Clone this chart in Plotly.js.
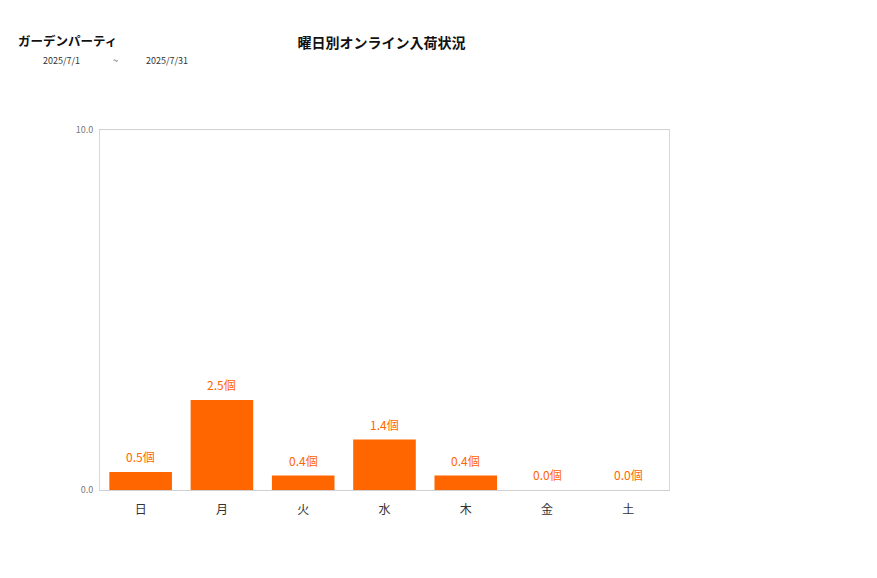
<!DOCTYPE html>
<html><head><meta charset="utf-8">
<script src="https://cdn.plot.ly/plotly-3.0.1.min.js"></script>
<style>html,body{margin:0;padding:0;background:#fff}#c{width:877px;height:578px}</style>
</head><body><div id="c"></div>
<script>
const categories = ["日","月","火","水","木","金","土"];
const values = [0.5, 2.5, 0.4, 1.4, 0.4, 0.0, 0.0];
const unit = "個";
const chartTitle = "曜日別オンライン入荷状況";
const storeName = "ガーデンパーティ";
const dateFrom = "2025/7/1";
const dateTo = "2025/7/31";
const yTicks = [0, 10];

const F = "'Noto Sans CJK JP', 'Noto Sans', sans-serif";
const labelAnns = categories.map((c, i) => ({
  x: c, y: values[i], xref: "x", yref: "y", text: values[i].toFixed(1) + unit,
  showarrow: false, yanchor: "bottom", yshift: 5,
  font: {family: F, size: 12, color: "#ff6600"}
}));
Plotly.newPlot("c", [{
  type: "bar",
  x: categories,
  y: values,
  marker: {color: "#ff6600"},
  hoverinfo: "none"
}], {
  width: 877, height: 578,
  margin: {l: 100, r: 208, t: 130, b: 88},
  paper_bgcolor: "#fff", plot_bgcolor: "#fff",
  bargap: 0.23,
  showlegend: false,
  font: {family: F},
  title: {text: "<b>" + chartTitle + "</b>", x: 0.435, xanchor: "center", y: 0.925, yanchor: "middle",
          font: {family: F, size: 14, color: "#111"}},
  xaxis: {
    tickfont: {family: F, size: 12, color: "#333"},
    showline: true, linecolor: "#d0d0d0", linewidth: 1, mirror: true,
    ticks: "", showgrid: false, ticklabelstandoff: 9
  },
  yaxis: {
    range: [0, 10], tickvals: yTicks, ticktext: yTicks.map(v => v.toFixed(1)),
    tickfont: {family: F, size: 9, color: "#777"},
    showline: true, linecolor: "#d8d8d8", linewidth: 1, mirror: true,
    showgrid: false, zeroline: false, ticks: "", ticklabelstandoff: 4
  },
  annotations: labelAnns.concat([
    {text: "<b>" + storeName + "</b>", xref: "paper", yref: "paper", x: -0.147, y: 1.248,
     xanchor: "left", yanchor: "middle", showarrow: false, font: {family: F, size: 12.5, color: "#111"}},
    {text: dateFrom, xref: "paper", yref: "paper", x: -0.104, y: 1.192,
     xanchor: "left", yanchor: "middle", showarrow: false, font: {family: F, size: 9, color: "#333"}},
    {text: "~", xref: "paper", yref: "paper", x: 0.0193, y: 1.192,
     xanchor: "left", yanchor: "middle", showarrow: false, font: {family: F, size: 9, color: "#333"}},
    {text: dateTo, xref: "paper", yref: "paper", x: 0.0773, y: 1.192,
     xanchor: "left", yanchor: "middle", showarrow: false, font: {family: F, size: 9, color: "#333"}}
  ])
}, {displayModeBar: false, staticPlot: true});
</script></body></html>
